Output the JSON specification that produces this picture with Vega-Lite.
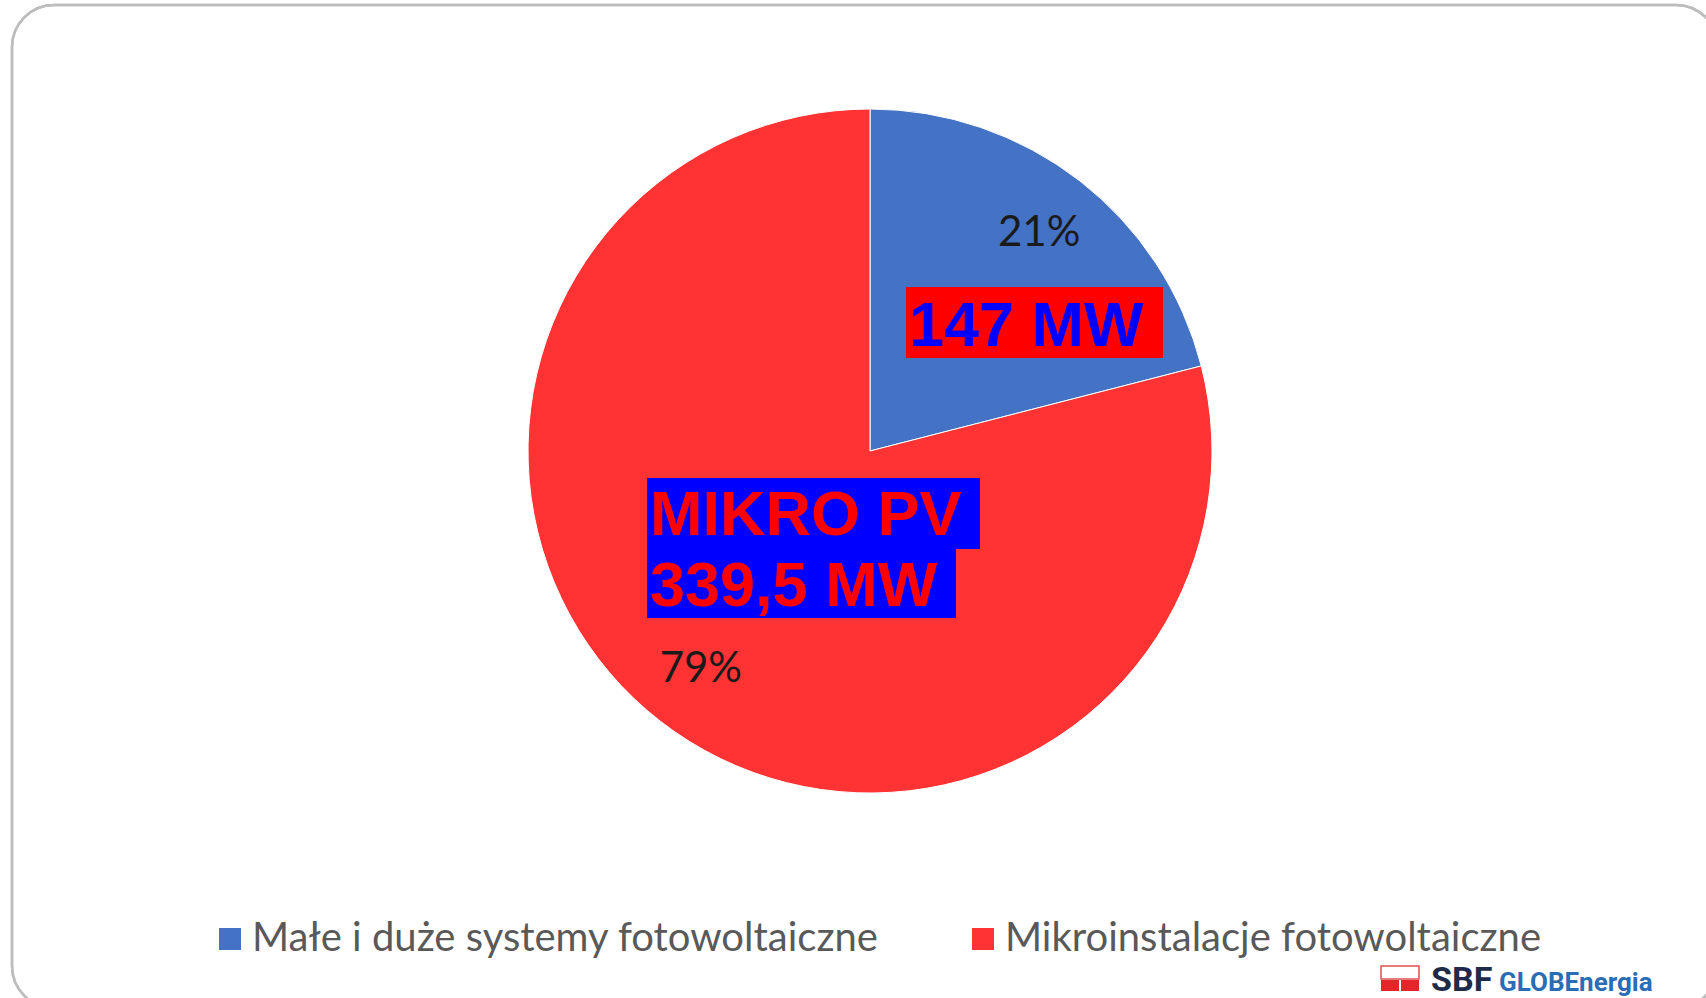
{
  "$schema": "https://vega.github.io/schema/vega-lite/v6.json",
  "autosize": {"type": "none"},
  "width": 1706,
  "height": 998,
  "padding": 0,
  "background": "#ffffff",
  "config": {"view": {"stroke": null}},
  "data": {
    "values": [
      {"kategoria": "Małe i duże systemy fotowoltaiczne", "udzial": 21, "procent": "21%", "moc": "147 MW"},
      {"kategoria": "Mikroinstalacje fotowoltaiczne", "udzial": 79, "procent": "79%", "moc": "339,5 MW"}
    ]
  },
  "layer": [
    {
      "mark": {"type": "rect", "fill": null, "stroke": "#bdbdbd", "strokeWidth": 2.5, "cornerRadius": 42},
      "encoding": {
        "x": {"datum": 12, "type": "quantitative", "scale": {"domain": [0, 1706], "nice": false, "zero": false}, "axis": null},
        "x2": {"datum": 1718},
        "y": {"datum": 5, "type": "quantitative", "scale": {"domain": [0, 998], "nice": false, "zero": false, "reverse": true}, "axis": null},
        "y2": {"datum": 1008}
      }
    },
    {
      "mark": {"type": "arc", "outerRadius": 342, "stroke": "#ffffff", "strokeWidth": 1},
      "encoding": {
        "x": {"datum": 870, "type": "quantitative", "scale": {"domain": [0, 1706], "nice": false, "zero": false}, "axis": null},
        "y": {"datum": 451, "type": "quantitative", "scale": {"domain": [0, 998], "nice": false, "zero": false, "reverse": true}, "axis": null},
        "theta": {"field": "udzial", "type": "quantitative", "stack": true},
        "color": {
          "field": "kategoria",
          "type": "nominal",
          "scale": {"domain": ["Małe i duże systemy fotowoltaiczne", "Mikroinstalacje fotowoltaiczne"], "range": ["#4472c4", "#ff3333"]},
          "legend": {
            "title": null,
            "orient": "none",
            "legendX": 210,
            "legendY": 919,
            "direction": "horizontal",
            "symbolType": "square",
            "symbolSize": 484,
            "symbolStrokeWidth": 0,
            "labelFont": "Lato",
            "labelFontSize": 40,
            "labelColor": "#595959",
            "labelOffset": 2,
            "labelLimit": 0,
            "columnPadding": 84,
            "padding": 0
          }
        },
        "order": {"field": "udzial", "type": "quantitative", "sort": "ascending"}
      }
    },
    {
      "mark": {"type": "text", "radius": 276, "font": "Lato", "fontSize": 42, "color": "#1a1a1a"},
      "encoding": {
        "x": {"datum": 870, "type": "quantitative", "scale": {"domain": [0, 1706], "nice": false, "zero": false}, "axis": null},
        "y": {"datum": 451, "type": "quantitative", "scale": {"domain": [0, 998], "nice": false, "zero": false, "reverse": true}, "axis": null},
        "theta": {"field": "udzial", "type": "quantitative", "stack": true},
        "order": {"field": "udzial", "type": "quantitative", "sort": "ascending"},
        "text": {"field": "procent"}
      }
    },
    {
      "transform": [{"filter": "datum.udzial == 21"}],
      "mark": {"type": "rect", "fill": "#ff0000"},
      "encoding": {
        "x": {"datum": 906, "type": "quantitative", "scale": {"domain": [0, 1706], "nice": false, "zero": false}, "axis": null},
        "x2": {"datum": 1163},
        "y": {"datum": 287, "type": "quantitative", "scale": {"domain": [0, 998], "nice": false, "zero": false, "reverse": true}, "axis": null},
        "y2": {"datum": 358}
      }
    },
    {
      "transform": [{"filter": "datum.udzial == 79"}],
      "mark": {"type": "rect", "fill": "#0000ff"},
      "encoding": {
        "x": {"datum": 647, "type": "quantitative", "scale": {"domain": [0, 1706], "nice": false, "zero": false}, "axis": null},
        "x2": {"datum": 980},
        "y": {"datum": 478, "type": "quantitative", "scale": {"domain": [0, 998], "nice": false, "zero": false, "reverse": true}, "axis": null},
        "y2": {"datum": 549}
      }
    },
    {
      "transform": [{"filter": "datum.udzial == 79"}],
      "mark": {"type": "rect", "fill": "#0000ff"},
      "encoding": {
        "x": {"datum": 647, "type": "quantitative", "scale": {"domain": [0, 1706], "nice": false, "zero": false}, "axis": null},
        "x2": {"datum": 956},
        "y": {"datum": 548, "type": "quantitative", "scale": {"domain": [0, 998], "nice": false, "zero": false, "reverse": true}, "axis": null},
        "y2": {"datum": 618}
      }
    },
    {
      "transform": [{"filter": "datum.udzial == 21"}],
      "mark": {"type": "text", "font": "Liberation Sans", "fontWeight": "bold", "fontSize": 63, "color": "#0000ff", "align": "left", "baseline": "alphabetic"},
      "encoding": {
        "x": {"datum": 909, "type": "quantitative", "scale": {"domain": [0, 1706], "nice": false, "zero": false}, "axis": null},
        "y": {"datum": 346, "type": "quantitative", "scale": {"domain": [0, 998], "nice": false, "zero": false, "reverse": true}, "axis": null},
        "text": {"field": "moc"}
      }
    },
    {
      "transform": [{"filter": "datum.udzial == 79"}],
      "mark": {"type": "text", "font": "Liberation Sans", "fontWeight": "bold", "fontSize": 63, "color": "#ff0000", "align": "left", "baseline": "alphabetic"},
      "encoding": {
        "x": {"datum": 650, "type": "quantitative", "scale": {"domain": [0, 1706], "nice": false, "zero": false}, "axis": null},
        "y": {"datum": 535, "type": "quantitative", "scale": {"domain": [0, 998], "nice": false, "zero": false, "reverse": true}, "axis": null},
        "text": {"value": "MIKRO PV"}
      }
    },
    {
      "transform": [{"filter": "datum.udzial == 79"}],
      "mark": {"type": "text", "font": "Liberation Sans", "fontWeight": "bold", "fontSize": 63, "color": "#ff0000", "align": "left", "baseline": "alphabetic"},
      "encoding": {
        "x": {"datum": 650, "type": "quantitative", "scale": {"domain": [0, 1706], "nice": false, "zero": false}, "axis": null},
        "y": {"datum": 606, "type": "quantitative", "scale": {"domain": [0, 998], "nice": false, "zero": false, "reverse": true}, "axis": null},
        "text": {"field": "moc"}
      }
    },
    {
      "data": {"values": [{}]},
      "mark": {"type": "rect", "fill": "#ffffff", "stroke": "#e05050", "strokeWidth": 1.5},
      "encoding": {
        "x": {"datum": 1381, "type": "quantitative", "scale": {"domain": [0, 1706], "nice": false, "zero": false}, "axis": null},
        "x2": {"datum": 1419},
        "y": {"datum": 966, "type": "quantitative", "scale": {"domain": [0, 998], "nice": false, "zero": false, "reverse": true}, "axis": null},
        "y2": {"datum": 979}
      }
    },
    {
      "data": {"values": [{}]},
      "mark": {"type": "rect", "fill": "#e4262b"},
      "encoding": {
        "x": {"datum": 1381, "type": "quantitative", "scale": {"domain": [0, 1706], "nice": false, "zero": false}, "axis": null},
        "x2": {"datum": 1399},
        "y": {"datum": 980, "type": "quantitative", "scale": {"domain": [0, 998], "nice": false, "zero": false, "reverse": true}, "axis": null},
        "y2": {"datum": 991}
      }
    },
    {
      "data": {"values": [{}]},
      "mark": {"type": "rect", "fill": "#e4262b"},
      "encoding": {
        "x": {"datum": 1401, "type": "quantitative", "scale": {"domain": [0, 1706], "nice": false, "zero": false}, "axis": null},
        "x2": {"datum": 1419},
        "y": {"datum": 980, "type": "quantitative", "scale": {"domain": [0, 998], "nice": false, "zero": false, "reverse": true}, "axis": null},
        "y2": {"datum": 991}
      }
    },
    {
      "data": {"values": [{}]},
      "mark": {"type": "text", "font": "Roboto", "fontWeight": "bold", "fontSize": 34, "color": "#1e2a4a", "align": "left", "baseline": "alphabetic"},
      "encoding": {
        "x": {"datum": 1431, "type": "quantitative", "scale": {"domain": [0, 1706], "nice": false, "zero": false}, "axis": null},
        "y": {"datum": 991, "type": "quantitative", "scale": {"domain": [0, 998], "nice": false, "zero": false, "reverse": true}, "axis": null},
        "text": {"value": "SBF"}
      }
    },
    {
      "data": {"values": [{}]},
      "mark": {"type": "text", "font": "Roboto", "fontWeight": "bold", "fontSize": 26, "color": "#2a6db5", "align": "left", "baseline": "alphabetic"},
      "encoding": {
        "x": {"datum": 1499, "type": "quantitative", "scale": {"domain": [0, 1706], "nice": false, "zero": false}, "axis": null},
        "y": {"datum": 991, "type": "quantitative", "scale": {"domain": [0, 998], "nice": false, "zero": false, "reverse": true}, "axis": null},
        "text": {"value": "GLOBEnergia"}
      }
    }
  ]
}
